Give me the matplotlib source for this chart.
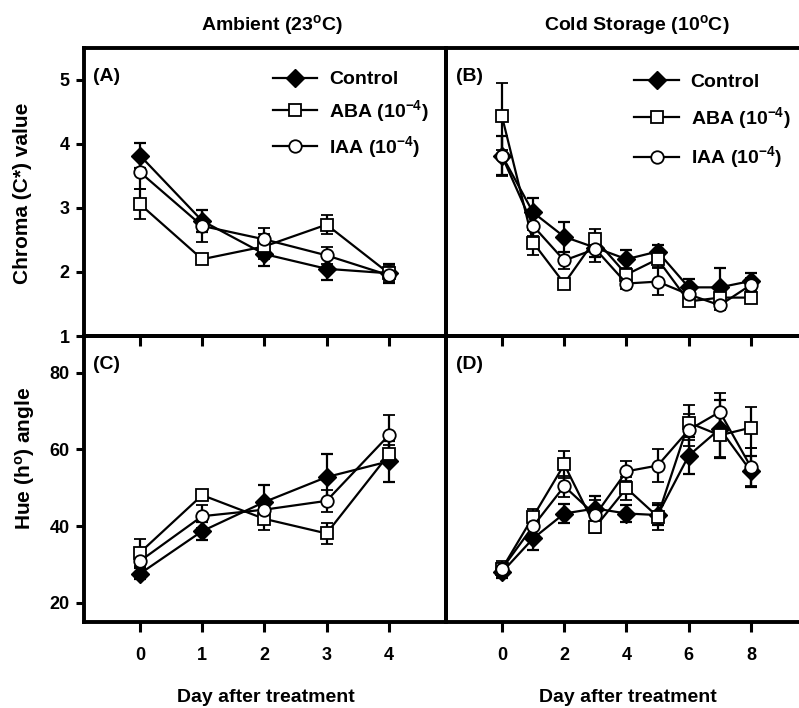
import numpy as np
import matplotlib
matplotlib.use('Agg')
import matplotlib.pyplot as plt

plt.rcParams['font.family'] = ['Liberation Sans', 'DejaVu Sans']
plt.rcParams['font.weight'] = 'bold'
plt.rcParams['mathtext.fontset'] = 'custom'
plt.rcParams['mathtext.rm'] = 'Liberation Sans:bold'
plt.rcParams['mathtext.it'] = 'Liberation Sans:bold'
plt.rcParams['mathtext.bf'] = 'Liberation Sans:bold'
plt.rcParams['mathtext.default'] = 'regular'

# days
days_amb = [0, 1, 2, 3, 4]
days_cold = [0, 1, 2, 3, 4, 5, 6, 7, 8]

# chroma, ambient (A)
chroma_amb_ctrl = [3.82, 2.80, 2.28, 2.05, 1.98]
chroma_amb_ctrl_err = [0.20, 0.17, 0.18, 0.18, 0.15]
chroma_amb_aba = [3.06, 2.20, 2.40, 2.74, 1.98]
chroma_amb_aba_err = [0.23, 0.05, 0.20, 0.15, 0.12]
chroma_amb_iaa = [3.56, 2.72, 2.51, 2.26, 1.95]
chroma_amb_iaa_err = [0.26, 0.25, 0.17, 0.13, 0.12]

# chroma, cold storage (B)
chroma_cold_ctrl = [3.82, 2.93, 2.55, 2.38, 2.20, 2.32, 1.76, 1.76, 1.86]
chroma_cold_ctrl_err = [0.30, 0.23, 0.23, 0.15, 0.15, 0.10, 0.13, 0.30, 0.12]
chroma_cold_aba = [4.43, 2.46, 1.82, 2.51, 1.96, 2.20, 1.54, 1.60, 1.60]
chroma_cold_aba_err = [0.53, 0.20, 0.06, 0.16, 0.10, 0.12, 0.06, 0.08, 0.06]
chroma_cold_iaa = [3.81, 2.72, 2.18, 2.36, 1.82, 1.85, 1.65, 1.48, 1.80]
chroma_cold_iaa_err = [0.31, 0.15, 0.14, 0.20, 0.08, 0.21, 0.10, 0.08, 0.10]

# hue, ambient (C)
hue_amb_ctrl = [27.6, 38.7, 46.3, 52.8, 56.9]
hue_amb_ctrl_err = [1.5, 2.3, 4.4, 5.9, 5.3]
hue_amb_aba = [33.1, 48.1, 41.9, 38.1, 58.7]
hue_amb_aba_err = [3.6, 1.2, 3.0, 2.7, 2.5]
hue_amb_iaa = [30.9, 42.6, 44.3, 46.6, 63.7]
hue_amb_iaa_err = [1.5, 3.0, 2.0, 2.9, 5.3]

# hue, cold storage (D)
hue_cold_ctrl = [28.0, 36.8, 43.3, 44.6, 43.3, 42.9, 58.4, 65.4, 54.3]
hue_cold_ctrl_err = [1.5, 2.9, 2.6, 3.3, 2.3, 2.5, 4.8, 7.5, 4.1]
hue_cold_aba = [28.9, 42.5, 56.1, 39.8, 49.9, 42.5, 67.0, 63.7, 65.7]
hue_cold_aba_err = [2.0, 2.0, 3.5, 1.5, 3.0, 3.5, 4.6, 5.6, 5.3]
hue_cold_iaa = [28.9, 40.0, 50.4, 42.9, 54.3, 55.8, 65.1, 69.8, 55.4]
hue_cold_iaa_err = [1.5, 2.0, 2.7, 4.0, 2.6, 4.2, 4.1, 4.9, 5.0]

labels = ['Control', 'ABA (10$^{-4}$)', 'IAA (10$^{-4}$)']

fig = plt.figure(figsize=(7.99, 7.08), dpi=100)
W, H = 799.0, 708.0

def box(x0, x1, y0, y1):
    return [x0 / W, 1 - y1 / H, (x1 - x0) / W, (y1 - y0) / H]

axA = fig.add_axes(box(84, 446, 48, 336))
axB = fig.add_axes(box(446, 830, 48, 336))
axC = fig.add_axes(box(84, 446, 336, 622))
axD = fig.add_axes(box(446, 830, 336, 622))

def draw(ax, x, series):
    hs = []
    styles = [dict(marker='D', ms=9, mfc='black', mec='black'),
              dict(marker='s', ms=8, mfc='white', mec='black', mew=1.3),
              dict(marker='o', ms=9, mfc='white', mec='black', mew=1.3)]
    for (y, e), st in zip(series, styles):
        c = ax.errorbar(x, y, yerr=e, color='black', lw=1.6, elinewidth=1.6,
                        capsize=4, capthick=1.6, **st)
        hs.append(c.lines[0])
    return hs

hA = draw(axA, days_amb, [(chroma_amb_ctrl, chroma_amb_ctrl_err),
                          (chroma_amb_aba, chroma_amb_aba_err),
                          (chroma_amb_iaa, chroma_amb_iaa_err)])
hB = draw(axB, days_cold, [(chroma_cold_ctrl, chroma_cold_ctrl_err),
                           (chroma_cold_aba, chroma_cold_aba_err),
                           (chroma_cold_iaa, chroma_cold_iaa_err)])
draw(axC, days_amb, [(hue_amb_ctrl, hue_amb_ctrl_err),
                     (hue_amb_aba, hue_amb_aba_err),
                     (hue_amb_iaa, hue_amb_iaa_err)])
draw(axD, days_cold, [(hue_cold_ctrl, hue_cold_ctrl_err),
                      (hue_cold_aba, hue_cold_aba_err),
                      (hue_cold_iaa, hue_cold_iaa_err)])

for ax in (axA, axC):
    ax.set_xlim(-0.9, 4.92)
    ax.set_xticks(days_amb)
for ax in (axB, axD):
    ax.set_xlim(-1.8, 10.54)
    ax.set_xticks([0, 2, 4, 6, 8])
for ax in (axA, axB):
    ax.set_ylim(1, 5.5)
    ax.set_yticks([1, 2, 3, 4, 5])
for ax in (axC, axD):
    ax.set_ylim(15, 89.6)
    ax.set_yticks([20, 40, 60, 80])

for ax in (axA, axB, axC, axD):
    ax.set_facecolor('none')
    for s in ax.spines.values():
        s.set_linewidth(2.8)
    ax.tick_params(axis='x', direction='out', length=7, width=2.2, pad=11,
                   labelsize=13)
    ax.tick_params(axis='y', direction='out', length=5.5, width=2.2, pad=5,
                   labelsize=13)
    for t in ax.get_xticklabels() + ax.get_yticklabels():
        t.set_fontweight('bold')

axA.tick_params(axis='x', labelbottom=False)
axB.tick_params(axis='x', labelbottom=False)
axB.tick_params(axis='y', left=False, labelleft=False)
axD.tick_params(axis='y', left=False, labelleft=False)
axB.spines['right'].set_visible(False)
axD.spines['right'].set_visible(False)

legA = axA.legend(hA, labels, loc='upper left', bbox_to_anchor=(0.478, 0.975),
                  frameon=False, fontsize=14, handlelength=2.3,
                  handletextpad=0.6, labelspacing=0.5, borderpad=0.3)
legB = axB.legend(hB, labels, loc='upper left', bbox_to_anchor=(0.45, 0.965),
                  frameon=False, fontsize=14, handlelength=2.3,
                  handletextpad=0.6, labelspacing=0.7, borderpad=0.3)
for leg in (legA, legB):
    for t in leg.get_texts():
        t.set_fontweight('bold')

for ax, lab in ((axA, '(A)'), (axB, '(B)'), (axC, '(C)'), (axD, '(D)')):
    ax.text(0.026, 0.9, lab, transform=ax.transAxes, ha='left', va='center',
            fontsize=14, fontweight='bold')

fig.text(272 / W, 1 - 25 / H, 'Ambient (23$^{o}$C)', ha='center', va='center',
         fontsize=14, fontweight='bold')
fig.text(637 / W, 1 - 25 / H, 'Cold Storage (10$^{o}$C)', ha='center',
         va='center', fontsize=14, fontweight='bold')
fig.text(266 / W, 1 - 698 / H, 'Day after treatment', ha='center',
         va='center', fontsize=14, fontweight='bold')
fig.text(628 / W, 1 - 698 / H, 'Day after treatment', ha='center',
         va='center', fontsize=14, fontweight='bold')
fig.text(23 / W, 1 - 193 / H, 'Chroma (C*) value', ha='center',
         va='center', rotation=90, fontsize=15, fontweight='bold')
fig.text(25 / W, 1 - 458 / H, 'Hue (h$^{o}$) angle', ha='center',
         va='center', rotation=90, fontsize=15, fontweight='bold')

fig.savefig('out.png', dpi=100)
